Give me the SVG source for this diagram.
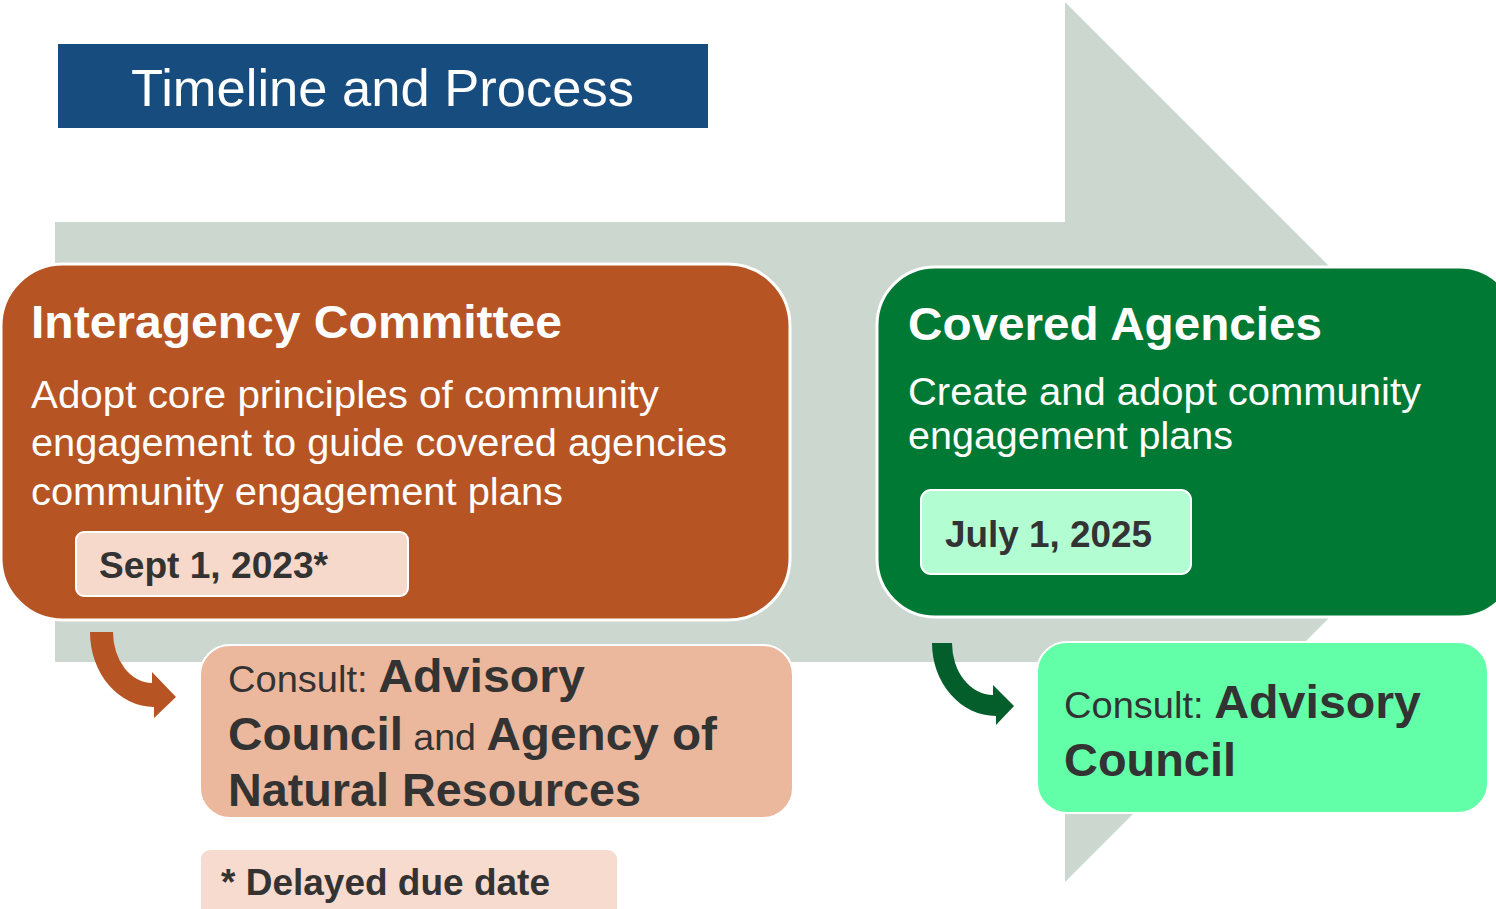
<svg xmlns="http://www.w3.org/2000/svg" width="1496" height="909" viewBox="0 0 1496 909">
<style>
text{font-family:"Liberation Sans",Arial,sans-serif}
.w{fill:#ffffff}
.hd{font-size:46px;font-weight:bold;fill:#ffffff}
.bd{font-size:38px;fill:#ffffff}
.dt{font-size:36px;font-weight:bold;fill:#333333}
.cs{font-size:37px;fill:#333333}
.cb{font-size:47px;font-weight:bold;fill:#333333}
</style>
<rect width="1496" height="909" fill="#ffffff"/>
<g id="big-arrow">
<path d="M55,222 L1065,222 L1065,2 L1505,442 L1065,882 L1065,662 L55,662 Z" fill="#CCD7D0"/>
</g>
<g id="title">
<rect x="58" y="44" width="650" height="84" fill="#174C7E"/>
<text x="131" y="106" font-size="52" class="w" textLength="503" lengthAdjust="spacingAndGlyphs">Timeline and Process</text>
</g>
<g id="interagency">
<rect x="1" y="264" width="789" height="356" rx="62" fill="#B75424" stroke="#ffffff" stroke-width="3"/>
<text x="31" y="338" class="hd" textLength="531" lengthAdjust="spacingAndGlyphs">Interagency Committee</text>
<text x="31" y="408" class="bd" textLength="628" lengthAdjust="spacingAndGlyphs">Adopt core principles of community</text>
<text x="31" y="456" class="bd" textLength="696" lengthAdjust="spacingAndGlyphs">engagement to guide covered agencies</text>
<text x="31" y="505" class="bd" textLength="532" lengthAdjust="spacingAndGlyphs">community engagement plans</text>
</g>
<g id="date-2023">
<rect x="76" y="532" width="332" height="64" rx="8" fill="#F7D9CC" stroke="#ffffff" stroke-width="2"/>
<text x="99" y="578" class="dt" textLength="229" lengthAdjust="spacingAndGlyphs">Sept 1, 2023*</text>
</g>
<g id="covered">
<rect x="877" y="267" width="640" height="350" rx="58" fill="#007934" stroke="#ffffff" stroke-width="3"/>
<text x="908" y="340" class="hd" textLength="414" lengthAdjust="spacingAndGlyphs">Covered Agencies</text>
<text x="908" y="405" class="bd" textLength="513" lengthAdjust="spacingAndGlyphs">Create and adopt community</text>
<text x="908" y="449" class="bd" textLength="325" lengthAdjust="spacingAndGlyphs">engagement plans</text>
</g>
<g id="date-2025">
<rect x="921" y="490" width="270" height="84" rx="10" fill="#B3FDD3" stroke="#ffffff" stroke-width="2"/>
<text x="945" y="547" class="dt" textLength="207" lengthAdjust="spacingAndGlyphs">July 1, 2025</text>
</g>
<g id="consult-1">
<rect x="200" y="645" width="593" height="173" rx="30" fill="#ECB89D" stroke="#ffffff" stroke-width="2"/>
<text x="228" y="692" textLength="357" lengthAdjust="spacingAndGlyphs"><tspan class="cs">Consult: </tspan><tspan class="cb">Advisory</tspan></text>
<text x="228" y="750" textLength="489" lengthAdjust="spacingAndGlyphs"><tspan class="cb">Council</tspan><tspan class="cs"> and </tspan><tspan class="cb">Agency of</tspan></text>
<text x="228" y="806" class="cb" textLength="413" lengthAdjust="spacingAndGlyphs">Natural Resources</text>
</g>
<g id="consult-2">
<rect x="1037" y="642" width="451" height="171" rx="30" fill="#62FFA8" stroke="#ffffff" stroke-width="2"/>
<text x="1064" y="718" textLength="357" lengthAdjust="spacingAndGlyphs"><tspan class="cs">Consult: </tspan><tspan class="cb">Advisory</tspan></text>
<text x="1064" y="776" class="cb" textLength="172" lengthAdjust="spacingAndGlyphs">Council</text>
</g>
<g id="footnote">
<rect x="201" y="850" width="416" height="70" rx="9" fill="#F7DBCE"/>
<text x="221" y="895" class="dt" textLength="329" lengthAdjust="spacingAndGlyphs">* Delayed due date</text>
</g>
<g id="connectors">
<path d="M90,632 L113,632 A39,51 0 0 0 152,683 L152,672 L176,697 L154,718 L154,707 A64,75 0 0 1 90,632 Z" fill="#B75424"/>
<path d="M932,643 L952,643 A41,52 0 0 0 993,695 L993,685 L1014,706 L996,725 L996,716 A64,73 0 0 1 932,643 Z" fill="#035E2C"/>
</g>
</svg>
